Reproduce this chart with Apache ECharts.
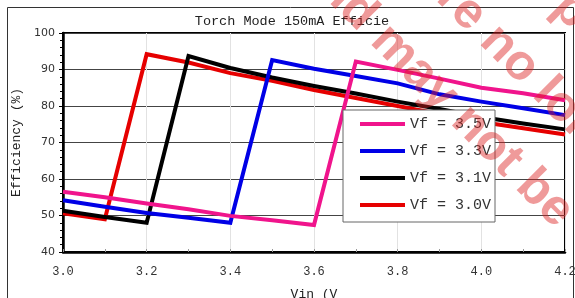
<!DOCTYPE html>
<html>
<head>
<meta charset="utf-8">
<script src="https://cdn.jsdelivr.net/npm/echarts@6/dist/echarts.min.js"></script>
<style>
  html, body { margin: 0; padding: 0; background: #fff; }
  #chart { width: 575px; height: 298px; }
</style>
</head>
<body>
<div id="chart"></div>
<script>
// input voltage steps (V)
const vin = [3.0, 3.1, 3.2, 3.3, 3.4, 3.5, 3.6, 3.7, 3.8, 3.9, 4.0, 4.1, 4.2];

// efficiency (%) per LED forward voltage
const eff35 = [56.5, 55.0, 53.3, 51.7, 49.9, 48.7, 47.4, 92.2, 89.9, 87.5, 85.0, 83.5, 81.6];
const eff33 = [54.2, 52.4, 50.7, 49.4, 48.0, 92.6, 90.2, 88.2, 86.2, 83.2, 81.2, 79.4, 77.5];
const eff31 = [51.3, 49.6, 48.0, 93.7, 90.4, 87.8, 85.5, 83.4, 81.2, 79.2, 77.0, 75.2, 73.6];
const eff30 = [50.6, 49.0, 94.2, 91.9, 89.0, 86.9, 84.4, 82.2, 80.0, 77.8, 75.6, 73.9, 72.2];

const seriesNames = ["Vf = 3.5V", "Vf = 3.3V", "Vf = 3.1V", "Vf = 3.0V"];
const seriesColors = ["#f0148c", "#0000e6", "#000000", "#e60000"];

const mono = "Liberation Mono";

const chart = echarts.init(document.getElementById("chart"));

const pairs = (vals) => vin.map((v, i) => [v, vals[i]]);
const allData = [eff35, eff33, eff31, eff30];

// draw red first, pink last (pink sits on top)
const series = [3, 2, 1, 0].map((k) => ({
    name: seriesNames[k],
    type: "line",
    data: pairs(allData[k]),
    symbol: "none",
    lineStyle: { color: seriesColors[k], width: 4, join: "miter" },
    itemStyle: { color: seriesColors[k] },
}));

const watermark = (txt, x, y) => ({
    type: "text",
    x: x,
    y: y,
    rotation: -Math.PI / 4,
    silent: true,
    z: 100,
    style: {
        text: txt,
        font: 'bold 50px "Liberation Sans"',
        fill: "rgba(220,30,30,0.45)",
        textAlign: "left",
        verticalAlign: "middle",
        textVerticalAlign: "middle",
    },
});

chart.setOption({
    animation: false,
    title: {
        text: "Torch Mode 150mA Efficie",
        left: 292,
        top: 14,
        padding: 0,
        textAlign: "center",
        textStyle: { fontFamily: mono, fontSize: 13.5, fontWeight: "normal", color: "#222" },
    },
    grid: {
        left: 63,
        right: 10,
        top: 33,
        bottom: 46,
        outerBoundsMode: "none",
        containLabel: false,
        show: true,
        borderColor: "#000",
        borderWidth: 2,
    },
    legend: {
        data: seriesNames,
        orient: "vertical",
        left: 343,
        top: 110,
        padding: [6, 4, 9, 17],
        itemGap: 11,
        itemWidth: 45,
        itemHeight: 4,
        icon: "rect",
        backgroundColor: "#fff",
        borderColor: "#666",
        borderWidth: 1,
        borderRadius: 0,
        itemStyle: { borderWidth: 0 },
        textStyle: { fontFamily: mono, fontSize: 15, lineHeight: 16, color: "#333" },
    },
    xAxis: {
        type: "value",
        min: 3.0,
        max: 4.2,
        interval: 0.2,
        name: "Vin (V",
        nameLocation: "middle",
        nameGap: 36,
        nameTextStyle: { fontFamily: mono, fontSize: 13, color: "#222" },
        axisLine: { lineStyle: { color: "#000", width: 2.5 } },
        axisTick: { show: true, inside: true, length: 3, lineStyle: { color: "#999" } },
        minorTick: { show: true, splitNumber: 2, length: 3, lineStyle: { color: "#999" } },
        axisLabel: {
            margin: 14,
            fontFamily: mono,
            fontSize: 12,
            color: "#333",
            formatter: (v) => v.toFixed(1),
        },
        splitLine: { show: true, lineStyle: { color: "#e2e2e2", width: 1 } },
    },
    yAxis: {
        type: "value",
        min: 40,
        max: 100,
        interval: 10,
        name: "Efficiency (%)",
        nameLocation: "middle",
        nameGap: 37,
        nameTextStyle: { fontFamily: mono, fontSize: 13, color: "#222" },
        axisLine: { show: true, lineStyle: { color: "#000", width: 2.5 } },
        axisTick: { show: true, length: 4, lineStyle: { color: "#000" } },
        minorTick: { show: true, splitNumber: 5, length: 3, lineStyle: { color: "#000" } },
        axisLabel: { margin: 8, fontFamily: "DejaVu Sans", fontSize: 11, color: "#333" },
        splitLine: { show: true, lineStyle: { color: "#444", width: 1 } },
    },
    graphic: [
        {
            type: "rect",
            silent: true,
            z: -10,
            shape: { x: 7.5, y: 7.5, width: 566, height: 300 },
            style: { fill: "none", stroke: "#333", lineWidth: 1 },
        },
        watermark("This part is", 478, -83),
        watermark("are no longer", 425, -30),
        watermark("and may not be", 306, -40),
    ],
    series: series,
});
</script>
</body>
</html>
